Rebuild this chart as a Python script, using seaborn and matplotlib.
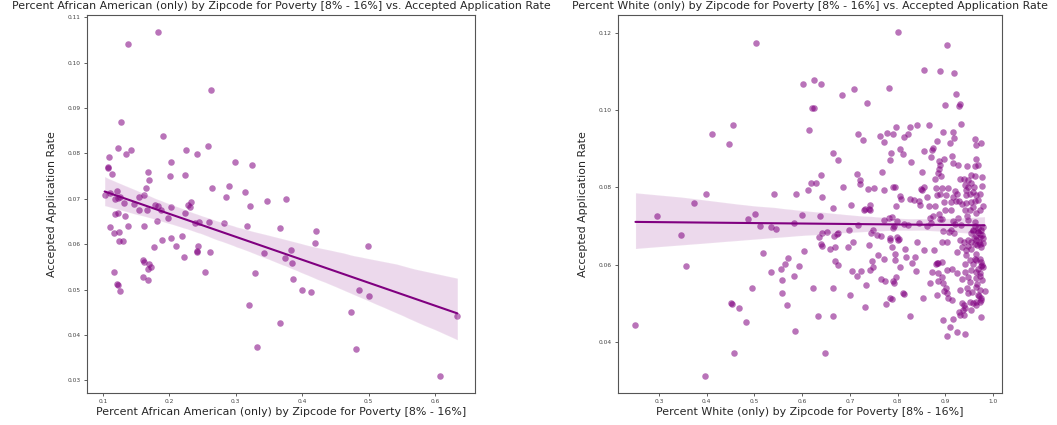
import matplotlib
matplotlib.use("Agg")
import matplotlib.pyplot as plt
import seaborn as sns
import pandas as pd

# ---------------- data ----------------
aa_label = "Percent African American (only) by Zipcode for Poverty [8% - 16%]"
wh_label = "Percent White (only) by Zipcode for Poverty [8% - 16%]"
y_label = "Accepted Application Rate"

aa_pct = [0.1825, 0.1372, 0.262, 0.1277, 0.1905, 0.1226, 0.1423, 0.1347, 0.1086, 0.2258,
          0.2418, 0.2580, 0.2021, 0.2982, 0.3243, 0.1080, 0.1082, 0.1131, 0.1685, 0.2011,
          0.2243, 0.1694, 0.2640, 0.2900, 0.3133, 0.2846, 0.1207, 0.1644, 0.1026, 0.1543,
          0.1614, 0.3464, 0.3750, 0.1101, 0.1187, 0.1226, 0.1262, 0.1317, 0.1473, 0.1538,
          0.1664, 0.1790, 0.1825, 0.1870, 0.2031, 0.2282, 0.2327, 0.2308, 0.2237, 0.1980,
          0.1810, 0.2383, 0.2448, 0.2594, 0.2825, 0.3213, 0.3172, 0.1181, 0.1226, 0.1338,
          0.1377, 0.1106, 0.1161, 0.1237, 0.1237, 0.1308, 0.1614, 0.1885, 0.2031, 0.2187,
          0.2101, 0.1769, 0.2428, 0.2409, 0.2412, 0.2605, 0.2222, 0.1599, 0.1614, 0.1694,
          0.1679, 0.1724, 0.1161, 0.2538, 0.1599, 0.1674, 0.1211, 0.1226, 0.1262, 0.3428,
          0.3288, 0.3670, 0.3745, 0.3831, 0.3842, 0.3866, 0.3992, 0.4128, 0.4188, 0.4208,
          0.3193, 0.3661, 0.3318, 0.4731, 0.4816, 0.4857, 0.5003, 0.4997, 0.6074, 0.6335]
aa_rate = [0.1067, 0.1040, 0.0939, 0.0870, 0.0839, 0.0812, 0.0808, 0.0799, 0.0793, 0.0808,
           0.0798, 0.0816, 0.0782, 0.0782, 0.0775, 0.0770, 0.0767, 0.0754, 0.0759, 0.0751,
           0.0753, 0.0741, 0.0724, 0.0729, 0.0716, 0.0705, 0.0718, 0.0723, 0.0709, 0.0704,
           0.0709, 0.0696, 0.0700, 0.0712, 0.0700, 0.0702, 0.0705, 0.0691, 0.0688, 0.0675,
           0.0675, 0.0687, 0.0683, 0.0675, 0.0682, 0.0687, 0.0692, 0.0682, 0.0669, 0.0658,
           0.0651, 0.0646, 0.0649, 0.0648, 0.0647, 0.0683, 0.0641, 0.0666, 0.0669, 0.0663,
           0.0640, 0.0637, 0.0624, 0.0626, 0.0607, 0.0607, 0.0641, 0.0610, 0.0613, 0.0617,
           0.0597, 0.0593, 0.0595, 0.0583, 0.0584, 0.0582, 0.0572, 0.0566, 0.0561, 0.0557,
           0.0546, 0.0550, 0.0539, 0.0539, 0.0527, 0.0522, 0.0513, 0.0511, 0.0497, 0.0580,
           0.0537, 0.0635, 0.0569, 0.0588, 0.0558, 0.0524, 0.0499, 0.0494, 0.0603, 0.0630,
           0.0465, 0.0427, 0.0373, 0.0450, 0.0370, 0.0499, 0.0485, 0.0595, 0.0310, 0.0442]

wh_pct = [0.5034, 0.8014, 0.9024, 0.8547, 0.8879, 0.9184, 0.9225, 0.7827, 0.6015, 0.6237,
          0.6389, 0.6202, 0.6244, 0.6839, 0.7088, 0.7350, 0.4121, 0.4542, 0.4465, 0.6140,
          0.6652, 0.6748, 0.7177, 0.7275, 0.7150, 0.6403,
          0.8997, 0.9280, 0.9315, 0.9329, 0.8657, 0.8408, 0.8263, 0.7959, 0.7628, 0.7773,
          0.7897, 0.7703, 0.8138, 0.8209, 0.8956, 0.9163, 0.9184, 0.9087, 0.8817, 0.9626,
          0.9750, 0.9647, 0.8049, 0.8111, 0.7856, 0.7841, 0.8541, 0.8734, 0.8713, 0.8707,
          0.8277, 0.8858, 0.8885, 0.8858, 0.8852, 0.8976, 0.9143, 0.9149, 0.9273, 0.9453,
          0.9619, 0.9688, 0.9632, 0.7669, 0.8505, 0.8790, 0.8906, 0.9308, 0.9391, 0.9474,
          0.9528, 0.9619, 0.9765, 0.7710, 0.7897, 0.7939, 0.8478, 0.8541, 0.8505, 0.8802,
          0.8920, 0.9045, 0.9197,
          0.9404, 0.9439, 0.9481, 0.9543, 0.9605, 0.9425, 0.9522, 0.9577, 0.9647, 0.9716,
          0.9765, 0.8055, 0.8070, 0.8250, 0.8346, 0.8450, 0.8609, 0.8831, 0.8893, 0.9010,
          0.9155, 0.9238, 0.7966, 0.8464, 0.8657, 0.8790, 0.8976, 0.9107, 0.9211, 0.9288,
          0.9342, 0.9439, 0.9543, 0.9619, 0.9681, 0.9792, 0.8989, 0.9107, 0.8873, 0.8734,
          0.8686, 0.8879, 0.7821, 0.7889, 0.7723, 0.7993, 0.7904, 0.7924, 0.8125, 0.8209,
          0.8437, 0.8609, 0.8698, 0.8935, 0.9149, 0.9273,
          0.9197, 0.9321, 0.9453, 0.9508, 0.9647, 0.9404, 0.9577, 0.9716, 0.9474, 0.9612,
          0.9681, 0.9543, 0.9647, 0.9474, 0.9716, 0.9577, 0.9786, 0.9772,
          0.7571, 0.7640, 0.7835, 0.7993, 0.8034, 0.8956, 0.9066, 0.9118, 0.9183,
          # lower right cluster
          0.7848, 0.8001, 0.8402, 0.8935, 0.9031, 0.7586, 0.7710, 0.7876, 0.7951, 0.7938,
          0.8146, 0.8173, 0.8292, 0.8366, 0.8553, 0.8769, 0.9232, 0.8055, 0.8387, 0.7655,
          0.7724, 0.7897, 0.7918, 0.7972, 0.8111, 0.8125, 0.7848, 0.7883, 0.7759, 0.8250,
          0.8526, 0.8678, 0.8817, 0.8852, 0.8920, 0.8803, 0.8727, 0.8844, 0.8920, 0.8837,
          0.8956, 0.9024, 0.9128, 0.9003, 0.8976, 0.9024, 0.8831, 0.9059, 0.9128, 0.9315,
          0.9543, 0.9736, 0.8941, 0.9163, 0.9093, 0.9232, 0.9404, 0.9024,
          0.9453, 0.9508, 0.9474, 0.9543, 0.9577, 0.9647, 0.9750, 0.9786, 0.9716, 0.9647,
          0.9633, 0.9716, 0.9819, 0.9681, 0.9750, 0.9729, 0.9647, 0.9577, 0.9508, 0.9474,
          0.9564, 0.9300, 0.9342, 0.9439, 0.9543, 0.9647, 0.9716, 0.9612, 0.9508, 0.9439,
          0.9404, 0.9232, 0.9342, 0.9404, 0.9786, 0.9716, 0.9626, 0.9543, 0.9474, 0.9384,
          0.9342, 0.9384, 0.9363, 0.9288, 0.9404, 0.9384, 0.9300,
          # dense column near 0.96 - 0.98
          0.9620, 0.9680, 0.9750, 0.9580, 0.9720, 0.9650, 0.9780, 0.9600, 0.9700, 0.9660,
          0.9740, 0.9760, 0.9690, 0.9630, 0.9730, 0.9770, 0.9670, 0.9710, 0.9750, 0.9640,
          0.9690, 0.9740,
          # left / middle lower part
          0.3988, 0.3733, 0.2958, 0.3463, 0.3573, 0.2508, 0.3961, 0.4569, 0.4515, 0.4520,
          0.4673, 0.4832, 0.4942, 0.4859, 0.5019, 0.5123, 0.5171, 0.5357, 0.5449, 0.5420,
          0.5357, 0.5552, 0.5579, 0.5586, 0.5683, 0.5635, 0.5710, 0.5828, 0.5870, 0.5835,
          0.5926, 0.5856, 0.6001, 0.6030, 0.6125, 0.6187, 0.6291, 0.6229, 0.6341, 0.6374,
          0.6362, 0.6409, 0.6519, 0.6395, 0.6409, 0.6424, 0.6478, 0.6582, 0.6652, 0.6665,
          0.6721, 0.6756, 0.6694, 0.6652, 0.6644, 0.6685, 0.6741, 0.6851, 0.6949, 0.6990,
          0.7017, 0.7073, 0.7046, 0.7005, 0.7142, 0.7177, 0.7212, 0.7212, 0.7239, 0.7295,
          0.7412, 0.7337, 0.7322, 0.7378, 0.7495, 0.7426, 0.7433, 0.7483, 0.7406, 0.7420,
          0.7474, 0.7458, 0.7316, 0.7399]
wh_rate = [0.1174, 0.1201, 0.1167, 0.1104, 0.1101, 0.1095, 0.1041, 0.1056, 0.1068, 0.1077,
           0.1068, 0.1006, 0.1004, 0.1039, 0.1055, 0.1019, 0.0939, 0.0962, 0.0911, 0.0949,
           0.0890, 0.0871, 0.0939, 0.0922, 0.0834, 0.0833,
           0.1013, 0.1010, 0.1015, 0.0964, 0.0960, 0.0960, 0.0957, 0.0957, 0.0933, 0.0940,
           0.0938, 0.0917, 0.0931, 0.0937, 0.0942, 0.0942, 0.0928, 0.0914, 0.0919, 0.0924,
           0.0915, 0.0909, 0.0898, 0.0886, 0.0889, 0.0870, 0.0895, 0.0902, 0.0896, 0.0879,
           0.0865, 0.0867, 0.0857, 0.0847, 0.0838, 0.0874, 0.0881, 0.0864, 0.0858, 0.0855,
           0.0856, 0.0857, 0.0874, 0.0840, 0.0840, 0.0822, 0.0829, 0.0822, 0.0821, 0.0819,
           0.0831, 0.0829, 0.0827, 0.0793, 0.0800, 0.0800, 0.0797, 0.0800, 0.0793, 0.0798,
           0.0799, 0.0799, 0.0790,
           0.0806, 0.0793, 0.0800, 0.0810, 0.0800, 0.0780, 0.0784, 0.0789, 0.0780, 0.0784,
           0.0803, 0.0777, 0.0771, 0.0770, 0.0767, 0.0765, 0.0775, 0.0780, 0.0782, 0.0780,
           0.0774, 0.0782, 0.0752, 0.0754, 0.0753, 0.0753, 0.0761, 0.0762, 0.0765, 0.0765,
           0.0756, 0.0759, 0.0763, 0.0765, 0.0767, 0.0752, 0.0741, 0.0741, 0.0732, 0.0725,
           0.0720, 0.0719, 0.0720, 0.0724, 0.0715, 0.0714, 0.0694, 0.0700, 0.0705, 0.0702,
           0.0709, 0.0700, 0.0708, 0.0717, 0.0714, 0.0720,
           0.0705, 0.0702, 0.0726, 0.0741, 0.0733, 0.0741, 0.0750, 0.0741, 0.0715, 0.0711,
           0.0685, 0.0681, 0.0664, 0.0664, 0.0672, 0.0690, 0.0698, 0.0677,
           0.0677, 0.0675, 0.0670, 0.0672, 0.0666, 0.0688, 0.0685, 0.0690, 0.0682,
           # lower right cluster
           0.0664, 0.0664, 0.0659, 0.0658, 0.0659, 0.0625, 0.0614, 0.0645, 0.0627, 0.0612,
           0.0642, 0.0620, 0.0605, 0.0620, 0.0638, 0.0638, 0.0634, 0.0595, 0.0583, 0.0562,
           0.0558, 0.0558, 0.0552, 0.0569, 0.0528, 0.0524, 0.0515, 0.0511, 0.0498, 0.0467,
           0.0515, 0.0552, 0.0605, 0.0605, 0.0608, 0.0602, 0.0580, 0.0578, 0.0569, 0.0558,
           0.0553, 0.0586, 0.0588, 0.0539, 0.0532, 0.0526, 0.0521, 0.0515, 0.0508, 0.0536,
           0.0483, 0.0464, 0.0457, 0.0459, 0.0439, 0.0426, 0.0422, 0.0415,
           0.0539, 0.0556, 0.0569, 0.0586, 0.0603, 0.0612, 0.0608, 0.0595, 0.0578, 0.0565,
           0.0543, 0.0534, 0.0533, 0.0521, 0.0513, 0.0504, 0.0496, 0.0502, 0.0503, 0.0526,
           0.0530, 0.0664, 0.0646, 0.0638, 0.0642, 0.0629, 0.0616, 0.0616, 0.0612, 0.0625,
           0.0603, 0.0578, 0.0562, 0.0582, 0.0655, 0.0653, 0.0653, 0.0659, 0.0648, 0.0659,
           0.0502, 0.0496, 0.0483, 0.0478, 0.0487, 0.0470, 0.0470,
           # dense column near 0.96 - 0.98
           0.0700, 0.0695, 0.0690, 0.0688, 0.0680, 0.0675, 0.0670, 0.0668, 0.0660, 0.0650,
           0.0645, 0.0600, 0.0590, 0.0580, 0.0570, 0.0560, 0.0550, 0.0520, 0.0510, 0.0505,
           0.0685, 0.0598,
           # left / middle lower part
           0.0783, 0.0760, 0.0727, 0.0678, 0.0596, 0.0444, 0.0313, 0.0372, 0.0500, 0.0499,
           0.0487, 0.0451, 0.0539, 0.0717, 0.0730, 0.0701, 0.0631, 0.0697, 0.0693, 0.0783,
           0.0582, 0.0589, 0.0560, 0.0526, 0.0496, 0.0603, 0.0618, 0.0708, 0.0784, 0.0571,
           0.0596, 0.0428, 0.0729, 0.0636, 0.0793, 0.0810, 0.0812, 0.0539, 0.0467, 0.0727,
           0.0671, 0.0683, 0.0684, 0.0653, 0.0649, 0.0774, 0.0373, 0.0642, 0.0746, 0.0675,
           0.0679, 0.0681, 0.0646, 0.0539, 0.0467, 0.0609, 0.0599, 0.0800, 0.0646, 0.0690,
           0.0755, 0.0659, 0.0584, 0.0523, 0.0571, 0.0704, 0.0819, 0.0809, 0.0584, 0.0741,
           0.0741, 0.0547, 0.0491, 0.0795, 0.0798, 0.0754, 0.0681, 0.0691, 0.0651, 0.0586,
           0.0595, 0.0610, 0.0743, 0.0743]

aa_df = pd.DataFrame({"pct": aa_pct, "rate": aa_rate})
wh_df = pd.DataFrame({"pct": wh_pct, "rate": wh_rate})

# ---------------- plot ----------------
sns.set_style("ticks")
plt.rcParams["font.family"] = ["DejaVu Sans"]

fig = plt.figure(figsize=(10.57, 4.25), dpi=100)
ax1 = fig.add_axes([87 / 1057, 32 / 425, 388 / 1057, 378 / 425])
ax2 = fig.add_axes([618 / 1057, 32 / 425, 384 / 1057, 378 / 425])

panels = [
    (ax1, aa_df, aa_label, [0.03, 0.04, 0.05, 0.06, 0.07, 0.08, 0.09, 0.10, 0.11]),
    (ax2, wh_df, wh_label, [0.04, 0.06, 0.08, 0.10, 0.12]),
]

for ax, df, xl, yt in panels:
    sns.regplot(data=df, x="pct", y="rate", ax=ax, color="purple", seed=3,
                scatter_kws={"alpha": 0.55, "s": 22, "linewidths": 0},
                line_kws={"linewidth": 1.5})
    ax.set_title(f"{xl} vs. {y_label}", fontsize=7.9, pad=4)
    ax.set_xlabel(xl, fontsize=7.9, labelpad=2)
    ax.set_ylabel(y_label, fontsize=7.9, labelpad=8)
    ax.set_yticks(yt)
    ax.tick_params(labelsize=4.2, length=2.5, width=0.6, colors="#444444", pad=2)
    for s in ax.spines.values():
        s.set_color("#555555")
        s.set_linewidth(0.8)

fig.savefig("out.png", dpi=100)
